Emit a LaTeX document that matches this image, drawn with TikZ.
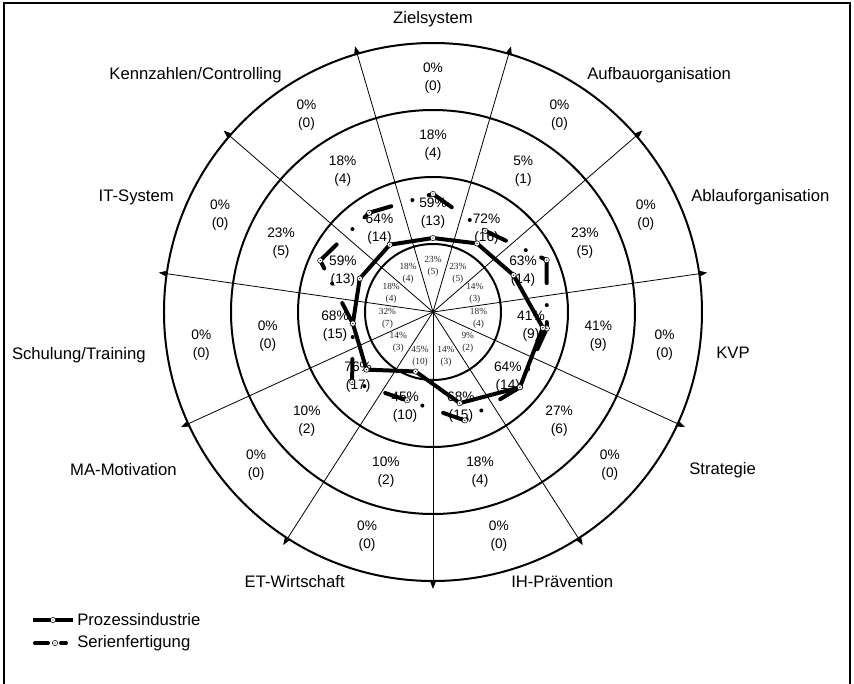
\documentclass[tikz,border=0pt]{standalone}
\usepackage{fontspec}
\setmainfont{Liberation Sans}
\newfontfamily\smallserif{Liberation Serif}
\usetikzlibrary{arrows.meta}
\begin{document}
\begin{tikzpicture}[x=0.75pt,y=0.75pt,
  ring/.style={line width=1.5pt},
  spoke/.style={line width=0.6pt,-{Triangle[length=5.5pt,width=4pt]}},
  axislabel/.style={font=\fontsize{12.5}{15}\selectfont, inner sep=0pt},
  share/.style={font=\fontsize{10.3}{13.5}\selectfont, align=center, inner sep=0pt},
  innershare/.style={font=\smallserif\fontsize{7}{9}\selectfont, align=center, inner sep=0pt, text=black!85},
  prozess/.style={line width=3pt, line join=round},
  serien/.style={line width=3pt, line cap=round, dash pattern=on 17.25pt off 16.5pt on 0pt off 12.75pt},
  marker/.style={circle, draw, fill=white, line width=0.4pt, inner sep=0pt, minimum size=4pt},
]
\useasboundingbox (-433,-371) rectangle (421,312);
\fill[white] (-433,-371) rectangle (421,312);
% frame
\draw[line width=0.9pt] (-429,-372) -- (-429,309) -- (417,309) -- (417,-372);

% concentric rings
\coordinate (O) at (0,0);
\foreach \r in {68,135,202,269} \draw[ring] (O) circle[radius=\r];

% eleven axes with arrow tips
\foreach \k in {0,...,10} {
  \coordinate (tip\k) at ({73.6364-32.7273*\k}:277);
  \draw[spoke] (O) -- (tip\k);
}

% axis names
\node[axislabel] (ziel) at (0,293) {Zielsystem};
\node[axislabel, anchor=west] (aufbau) at (154,237) {Aufbauorganisation};
\node[axislabel, anchor=west] (ablauf) at (258,115) {Ablauforganisation};
\node[axislabel, anchor=west] (kvp) at (283,-41) {KVP};
\node[axislabel, anchor=west] (strategie) at (256,-158) {Strategie};
\node[axislabel, anchor=west] (ih) at (78,-270) {IH-Prävention};
\node[axislabel, anchor=east] (et) at (-88,-270) {ET-Wirtschaft};
\node[axislabel, anchor=east] (ma) at (-256,-158) {MA-Motivation};
\node[axislabel, anchor=east] (schulung) at (-287,-43) {Schulung/Training};
\node[axislabel, anchor=east] (it) at (-259,115) {IT-System};
\node[axislabel, anchor=east] (kennzahlen) at (-151,237) {Kennzahlen/Controlling};

% shares per ring
\foreach \i in {0,...,10}
  \node[share] (rfour\i) at ({90-32.7273*\i}:234) {0\%\\(0)};
\foreach \i/\p/\n in {0/18/4,1/5/1,2/23/5,3/41/9,4/27/6,5/18/4,6/10/2,7/10/2,8/0/0,9/23/5,10/18/4}
  \node[share] (rthree\i) at ({90-32.7273*\i}:167) {\p\%\\(\n)};
\foreach \i/\p/\n in {0/59/13,1/72/16,2/63/14,3/41/9,4/64/14,5/68/15,6/45/10,7/76/17,8/68/15,9/59/13,10/64/14}
  \node[share] (rtwo\i) at ({90-32.7273*\i}:99) {\p\%\\(\n)};
\foreach \i/\p/\n in {0/23/5,1/23/5,2/14/3,3/18/4,4/9/2,5/14/3,6/45/10,7/14/3,8/32/7,9/18/4,10/18/4}
  \node[innershare] (rone\i) at ({90-32.7273*\i}:46) {\p\%\\(\n)};

% data points
\foreach \i/\r in {0/74,1/81.5,2/88.6,3/111,4/115,5/95,6/62,7/88,8/81,9/80.5,10/80}
  \coordinate (p\i) at ({90-32.7273*\i}:\r);
\foreach \i/\r in {0/118,1/96.5,2/125,3/115,4/115,5/113,6/92,7/107,8/81,9/124,10/118}
  \coordinate (s\i) at ({90-32.7273*\i}:\r);

% Serienfertigung: dash pattern restarts on every segment
\foreach \i [evaluate=\i as \j using {int(mod(\i+1,11))}] in {0,...,10}
  \draw[serien] (s\i) -- (s\j);

% Prozessindustrie
\draw[prozess] (p0) -- (p1) -- (p2) -- (p3) -- (p4) -- (p5) -- (p6) -- (p7) -- (p8) -- (p9) -- (p10) -- cycle;

% markers
\foreach \i in {0,...,10} {
  \node[marker] (sm\i) at (s\i) {};
  \fill (s\i) circle[radius=0.7];
  \node[marker] (pm\i) at (p\i) {};
  \fill (p\i) circle[radius=0.7];
}

% legend
\coordinate (la) at (-400,-308);
\coordinate (lb) at (-360,-308);
\draw[line width=3pt] (la) -- (lb);
\node[marker] (lpm) at (-380,-308) {};
\fill (lpm.center) circle[radius=0.7];
\node[axislabel, anchor=west] (lp) at (-356,-308) {Prozessindustrie};

\coordinate (lc) at (-398,-331);
\coordinate (ld) at (-385,-331);
\coordinate (le) at (-372,-331);
\coordinate (lf) at (-367,-331);
\draw[line width=3pt, line cap=round] (lc) -- (ld);
\draw[line width=3pt, line cap=round] (le) -- (lf);
\node[marker] (lsm) at (-378,-331) {};
\fill (lsm.center) circle[radius=0.7];
\node[axislabel, anchor=west] (ls) at (-356,-331) {Serienfertigung};
\end{tikzpicture}
\end{document}
